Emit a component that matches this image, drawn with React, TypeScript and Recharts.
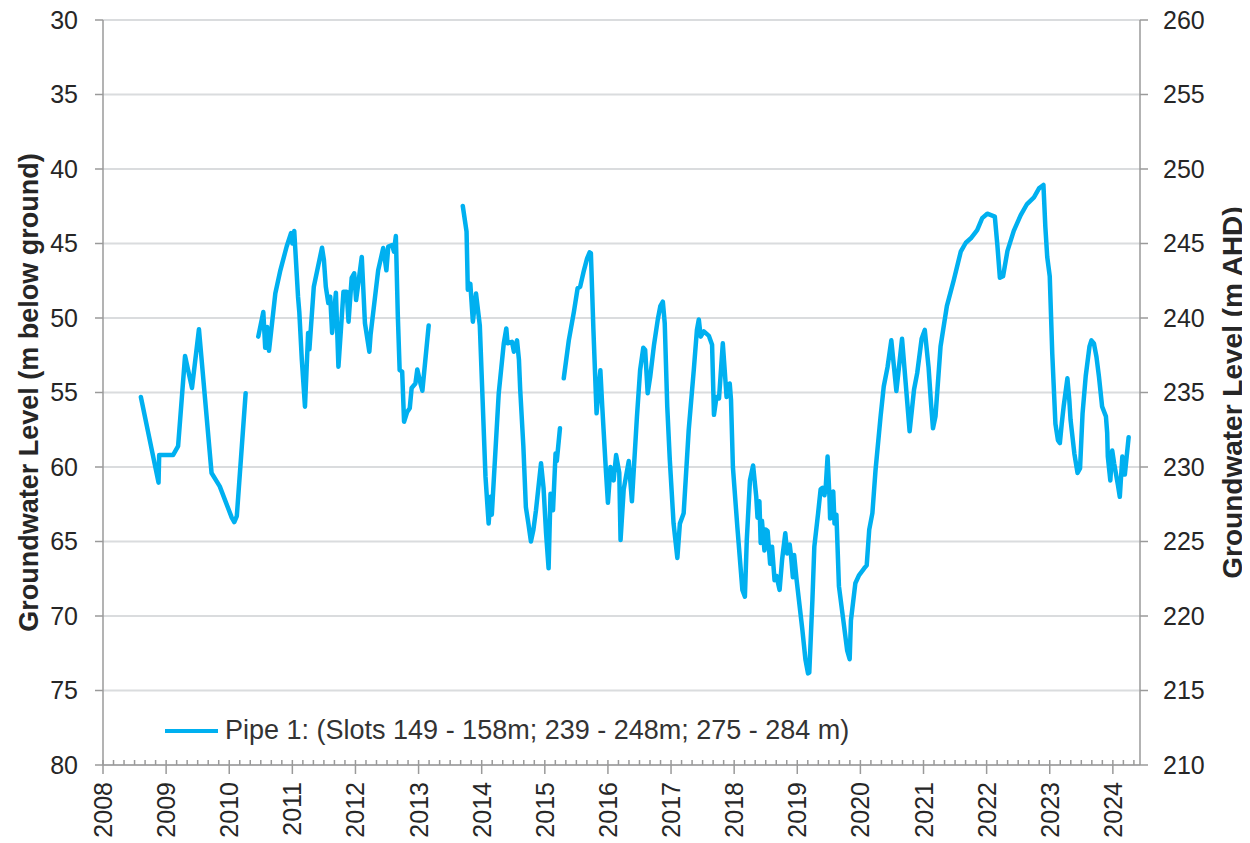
import { CartesianGrid, Label, Legend, Line, LineChart, XAxis, YAxis } from "recharts";

// [decimal year, depth below ground (m)] - logger record, split where there are gaps
const seg2008 = [
  [2008.6, 55.3], [2008.88, 61.05], [2008.89, 59.2], [2009.11, 59.2], [2009.19, 58.6],
  [2009.3, 52.55], [2009.41, 54.7], [2009.52, 50.75], [2009.72, 60.4], [2009.85, 61.3],
  [2010.04, 63.4], [2010.08, 63.7], [2010.12, 63.3], [2010.26, 55.05],
];

const seg2010 = [
  [2010.46, 51.25], [2010.54, 49.6], [2010.57, 52.0], [2010.6, 50.6], [2010.63, 52.2],
  [2010.73, 48.35], [2010.81, 46.8], [2010.91, 45.2], [2010.98, 44.3], [2011.0, 45.0],
  [2011.03, 44.16], [2011.09, 48.57], [2011.11, 49.58], [2011.15, 52.8], [2011.2, 55.95],
  [2011.25, 51.0], [2011.27, 52.1], [2011.34, 47.9], [2011.47, 45.28], [2011.5, 46.1],
  [2011.53, 47.9], [2011.57, 49.0], [2011.6, 48.57], [2011.63, 51.0], [2011.69, 48.3],
  [2011.73, 53.27], [2011.81, 48.23], [2011.86, 48.23], [2011.89, 50.25], [2011.94, 47.3],
  [2011.98, 47.0], [2012.01, 48.8], [2012.1, 45.9], [2012.15, 50.35], [2012.22, 52.26],
  [2012.24, 51.1], [2012.36, 46.8], [2012.44, 45.3], [2012.49, 46.8], [2012.52, 45.2],
  [2012.58, 45.1], [2012.61, 45.55], [2012.64, 44.5], [2012.67, 49.7], [2012.7, 53.5],
  [2012.74, 53.6], [2012.77, 56.96], [2012.82, 56.3], [2012.86, 56.06], [2012.89, 54.7],
  [2012.95, 54.4], [2012.98, 53.45], [2013.03, 54.4], [2013.06, 54.88], [2013.16, 50.5],
];

const seg2013 = [
  [2013.7, 42.48], [2013.76, 44.2], [2013.78, 48.1], [2013.82, 47.7], [2013.86, 50.25],
  [2013.91, 48.35], [2013.97, 50.5], [2014.06, 60.65], [2014.11, 63.8], [2014.14, 62.0],
  [2014.16, 63.2], [2014.27, 55.05], [2014.35, 51.7], [2014.39, 50.7], [2014.41, 51.7],
  [2014.48, 51.6], [2014.51, 52.26], [2014.56, 51.5], [2014.59, 52.8], [2014.61, 54.8],
  [2014.66, 58.6], [2014.7, 62.7], [2014.74, 63.8], [2014.78, 65.0], [2014.82, 64.2],
  [2014.86, 62.9], [2014.94, 59.75], [2014.98, 61.4], [2015.02, 64.45], [2015.06, 66.8],
  [2015.09, 61.8], [2015.13, 62.9], [2015.17, 59.1], [2015.19, 59.6], [2015.24, 57.4],
];

const seg2015 = [
  [2015.3, 54.05], [2015.38, 51.5], [2015.46, 49.6], [2015.52, 48.0], [2015.56, 47.9],
  [2015.62, 46.8], [2015.67, 46.0], [2015.71, 45.6], [2015.73, 45.65], [2015.77, 50.8],
  [2015.82, 56.4], [2015.88, 53.5], [2015.91, 55.95], [2015.97, 60.4], [2016.0, 62.4],
  [2016.04, 60.0], [2016.09, 60.9], [2016.13, 59.2], [2016.18, 60.4], [2016.2, 64.9],
  [2016.25, 61.5], [2016.33, 59.6], [2016.38, 62.3], [2016.46, 56.6], [2016.51, 53.5],
  [2016.56, 52.0], [2016.59, 52.15], [2016.63, 55.05], [2016.67, 53.94], [2016.73, 51.8],
  [2016.79, 50.1], [2016.83, 49.2], [2016.87, 48.9], [2016.9, 50.35], [2016.94, 55.95],
  [2016.98, 59.5], [2017.04, 63.8], [2017.1, 66.1], [2017.14, 63.8], [2017.2, 63.1],
  [2017.28, 57.5], [2017.36, 53.5], [2017.41, 50.8], [2017.44, 50.1], [2017.47, 51.25],
  [2017.52, 50.9], [2017.6, 51.2], [2017.65, 51.8], [2017.68, 56.5], [2017.72, 55.3],
  [2017.76, 55.4], [2017.82, 51.7], [2017.88, 55.3], [2017.93, 54.4], [2017.95, 55.5],
  [2017.98, 60.0], [2018.05, 64.0], [2018.13, 68.25], [2018.17, 68.7], [2018.2, 64.9],
  [2018.25, 60.9], [2018.3, 59.9], [2018.35, 62.0], [2018.37, 63.4], [2018.4, 62.3],
  [2018.42, 65.1], [2018.44, 63.6], [2018.48, 65.6], [2018.5, 64.2], [2018.53, 64.3],
  [2018.57, 66.5], [2018.6, 65.35], [2018.64, 67.6], [2018.67, 67.3], [2018.72, 68.25],
  [2018.76, 66.2], [2018.81, 64.45], [2018.84, 65.8], [2018.88, 65.2], [2018.9, 65.9],
  [2018.93, 67.4], [2018.95, 65.9], [2018.99, 67.6], [2019.08, 70.9], [2019.13, 72.95],
  [2019.17, 73.85], [2019.19, 73.8], [2019.24, 68.9], [2019.27, 65.35], [2019.33, 63.1],
  [2019.37, 61.5], [2019.4, 61.4], [2019.43, 61.9], [2019.45, 61.4], [2019.48, 59.3],
  [2019.51, 62.0], [2019.52, 63.45], [2019.57, 61.65], [2019.59, 63.8], [2019.62, 63.2],
  [2019.66, 68.0], [2019.73, 70.3], [2019.79, 72.3], [2019.83, 72.9], [2019.85, 70.3],
  [2019.92, 67.8], [2019.98, 67.25], [2020.06, 66.8], [2020.1, 66.6], [2020.14, 64.2],
  [2020.19, 63.1], [2020.24, 60.2], [2020.32, 56.6], [2020.37, 54.6], [2020.43, 53.3],
  [2020.49, 51.5], [2020.57, 54.9], [2020.66, 51.4], [2020.78, 57.6], [2020.85, 54.8],
  [2020.9, 53.7], [2020.97, 51.4], [2021.02, 50.8], [2021.08, 53.3], [2021.12, 55.8],
  [2021.15, 57.4], [2021.19, 56.6], [2021.27, 51.9], [2021.37, 49.2], [2021.48, 47.45],
  [2021.59, 45.55], [2021.67, 44.95], [2021.75, 44.65], [2021.85, 44.1], [2021.93, 43.3],
  [2022.01, 43.0], [2022.13, 43.2], [2022.17, 45.1], [2022.21, 47.3], [2022.26, 47.2],
  [2022.33, 45.5], [2022.43, 44.15], [2022.54, 43.1], [2022.64, 42.35], [2022.75, 41.9],
  [2022.83, 41.3], [2022.9, 41.07], [2022.93, 43.87], [2022.96, 45.9], [2023.0, 47.2],
  [2023.04, 52.4], [2023.09, 57.1], [2023.13, 58.2], [2023.16, 58.4], [2023.19, 57.1],
  [2023.22, 55.95], [2023.28, 54.05], [2023.31, 55.5], [2023.33, 56.85], [2023.39, 59.1],
  [2023.44, 60.4], [2023.48, 60.1], [2023.52, 56.4], [2023.57, 53.9], [2023.63, 51.9],
  [2023.66, 51.5], [2023.7, 51.7], [2023.74, 52.6], [2023.78, 53.94], [2023.83, 55.95],
  [2023.89, 56.6], [2023.91, 57.7], [2023.92, 59.3], [2023.96, 60.9], [2023.99, 58.9],
  [2024.02, 59.75], [2024.08, 61.2], [2024.11, 62.0], [2024.15, 59.3], [2024.19, 60.5],
  [2024.25, 58.0],
];

const years = [2008, 2009, 2010, 2011, 2012, 2013, 2014, 2015, 2016, 2017, 2018, 2019, 2020, 2021, 2022, 2023, 2024];
const depthTicks = [30, 35, 40, 45, 50, 55, 60, 65, 70, 75, 80];
const ahdTicks = [210, 215, 220, 225, 230, 235, 240, 245, 250, 255, 260];
const seriesName = "Pipe 1: (Slots 149 - 158m; 239 - 248m; 275 - 284 m)";

// ground surface elevation: depth 30 m <-> 260 m AHD
const SURFACE_AHD = 290;
const X_MAX = 2024.43;
const LINE = "#00b0f0";
const AXIS = "#9a9a9a";
const TEXT = "#262626";
const FONT = "'Liberation Sans', Arial, sans-serif";

// join segments, null row between them so the line breaks
const segments = [seg2008, seg2010, seg2013, seg2015];
const data: { t: number; depth: number | null; ahd: number | null }[] = [];
segments.forEach((seg, i) => {
  if (i > 0) {
    const prev = segments[i - 1];
    data.push({ t: (prev[prev.length - 1][0] + seg[0][0]) / 2, depth: null, ahd: null });
  }
  seg.forEach(([t, depth]) => data.push({ t, depth, ahd: SURFACE_AHD - depth }));
});

// majors on each year, minor marks every two months
const xTicks: number[] = [];
years.forEach((y) => {
  for (let m = 0; m < 12; m += 2) {
    const v = y + m / 12;
    if (v <= X_MAX) xTicks.push(v);
  }
});

const YearTick = (props: any) => {
  const { x, y, payload } = props;
  const v = payload.value as number;
  const major = Math.abs(v - Math.round(v)) < 1e-6;
  if (!major) {
    return <line x1={x} x2={x} y1={y - 5} y2={y} stroke={AXIS} strokeWidth={1.5} />;
  }
  const ty = y + 17;
  return (
    <g>
      <line x1={x} x2={x} y1={y - 5} y2={y + 9} stroke={AXIS} strokeWidth={1.5} />
      <text
        x={x}
        y={ty}
        transform={`rotate(-90, ${x}, ${ty})`}
        textAnchor="end"
        dominantBaseline="central"
        fontSize={25}
        fontFamily={FONT}
        fill={TEXT}
      >
        {Math.round(v)}
      </text>
    </g>
  );
};

const LegendContent = () => (
  <div style={{ display: "flex", alignItems: "center", fontFamily: FONT, whiteSpace: "nowrap" }}>
    <svg width={53} height={8}>
      <line x1={0} x2={53} y1={4} y2={4} stroke={LINE} strokeWidth={4} />
    </svg>
    <span style={{ marginLeft: 7, fontSize: 27, color: "#333333" }}>{seriesName}</span>
  </div>
);

export default function App() {
  return (
    <div style={{ margin: "-8px 0 0 0" }}>
      <LineChart width={1242} height={843} data={data} margin={{ top: 20, right: 0, bottom: 0, left: 0 }}>
        <CartesianGrid yAxisId="left" vertical={false} stroke="#dadcde" strokeWidth={2} />
        <XAxis
          dataKey="t"
          type="number"
          domain={[2008, X_MAX]}
          ticks={xTicks}
          interval={0}
          height={78}
          tickSize={0}
          tickMargin={0}
          axisLine={{ stroke: AXIS, strokeWidth: 1.5 }}
          tickLine={false}
          tick={<YearTick />}
        />
        <YAxis
          yAxisId="left"
          type="number"
          domain={[30, 80]}
          reversed
          allowDataOverflow
          ticks={depthTicks}
          interval={0}
          width={95}
          tickSize={8}
          tickMargin={17}
          axisLine={{ stroke: AXIS, strokeWidth: 1.5 }}
          tickLine={{ stroke: AXIS, strokeWidth: 1.5 }}
          tick={{ fill: TEXT, fontSize: 25, fontFamily: FONT }}
        >
          <Label
            value="Groundwater Level (m below ground)"
            angle={-90}
            position="insideLeft"
            offset={20}
            style={{ textAnchor: "middle", fontSize: 27, fontWeight: 700, fill: TEXT, fontFamily: FONT }}
          />
        </YAxis>
        <YAxis
          yAxisId="right"
          orientation="right"
          type="number"
          domain={[210, 260]}
          allowDataOverflow
          ticks={ahdTicks}
          interval={0}
          width={110}
          tickSize={8}
          tickMargin={15}
          axisLine={{ stroke: AXIS, strokeWidth: 1.5 }}
          tickLine={{ stroke: AXIS, strokeWidth: 1.5 }}
          tick={{ fill: TEXT, fontSize: 25, fontFamily: FONT, textAnchor: "start" }}
        >
          <Label
            value="Groundwater  Level (m AHD)"
            angle={-90}
            position="insideRight"
            offset={18}
            style={{ textAnchor: "middle", fontSize: 28, fontWeight: 700, fill: TEXT, fontFamily: FONT, whiteSpace: "pre" }}
          />
        </YAxis>
        <Legend
          layout="horizontal"
          verticalAlign="middle"
          align="center"
          content={<LegendContent />}
          wrapperStyle={{ left: 157, top: 715, width: "auto" }}
        />
        {/* same record on the AHD scale, only there to carry the right axis */}
        <Line
          yAxisId="right"
          dataKey="ahd"
          stroke={LINE}
          strokeOpacity={0}
          legendType="none"
          dot={false}
          activeDot={false}
          isAnimationActive={false}
        />
        <Line
          yAxisId="left"
          dataKey="depth"
          name={seriesName}
          stroke={LINE}
          strokeWidth={4.5}
          strokeLinejoin="round"
          strokeLinecap="round"
          dot={false}
          activeDot={false}
          connectNulls={false}
          isAnimationActive={false}
        />
      </LineChart>
    </div>
  );
}
